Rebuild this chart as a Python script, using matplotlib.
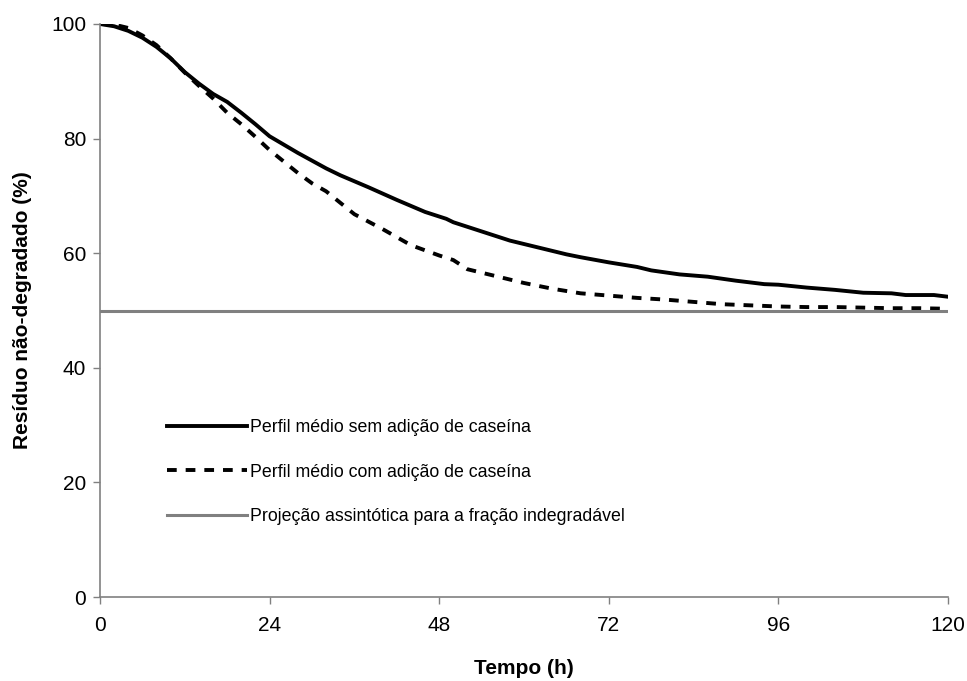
import numpy as np
import matplotlib.pyplot as plt

plt.rcParams['font.family'] = ['Liberation Sans', 'DejaVu Sans']

# tempo (h) e residuo (%)
t_sem = [0, 2, 4, 6, 8, 10, 12, 14, 16, 18, 20, 22, 24, 28, 32, 34, 38, 42, 46, 49, 50,
         54, 58, 62, 66, 68, 72, 76, 78, 82, 86, 90, 94, 96, 100, 104, 108, 112, 114, 118, 120]
y_sem = [100, 99.6, 98.8, 97.6, 96.0, 94.0, 91.6, 89.6, 87.8, 86.4, 84.5, 82.5, 80.4, 77.5,
         74.8, 73.6, 71.5, 69.3, 67.2, 66.0, 65.4, 63.8, 62.2, 61.0, 59.8, 59.3, 58.4, 57.6,
         57.0, 56.3, 55.9, 55.2, 54.6, 54.5, 54.0, 53.6, 53.1, 53.0, 52.7, 52.7, 52.4]

t_com = [0, 2, 4, 6, 8, 10, 12, 14, 16, 18, 20, 22, 24, 26, 28, 30, 32, 34, 36, 40, 44, 48,
         50, 52, 56, 60, 64, 68, 72, 76, 80, 84, 88, 92, 96, 100, 104, 108, 112, 116, 120]
y_com = [100, 99.9, 99.3, 98.0, 96.3, 94.0, 91.5, 89.2, 87.0, 84.5, 82.5, 80.3, 78.0, 76.0,
         74.0, 72.2, 70.8, 68.8, 66.8, 64.2, 61.4, 59.6, 58.8, 57.2, 56.0, 54.8, 53.8, 53.0,
         52.6, 52.2, 51.9, 51.5, 51.1, 50.9, 50.7, 50.6, 50.6, 50.5, 50.4, 50.4, 50.3]

t_ass = [0, 120]
y_ass = [49.9, 49.9]

labels = ['Perfil médio sem adição de caseína',
          'Perfil médio com adição de caseína',
          'Projeção assintótica para a fração indegradável']

fig = plt.figure(figsize=(9.67, 6.81), dpi=100)
ax = fig.add_axes([0.1034, 0.1233, 0.877, 0.8415])

ax.plot(t_sem, y_sem, color='black', linewidth=2.8, label=labels[0])
ax.plot(t_com, y_com, color='black', linewidth=2.8, dashes=(2.5, 2.3), label=labels[1])
ax.plot(t_ass, y_ass, color='#808080', linewidth=2.2, label=labels[2])

ax.set_xlim(0, 120)
ax.set_ylim(0, 100)
ax.set_xticks(np.arange(0, 121, 24))
ax.set_yticks(np.arange(0, 101, 20))
ax.tick_params(direction='out', length=5, width=1, color='#808080', labelsize=15, pad=5)
ax.tick_params(axis='x', pad=9)
for s in ['top', 'right']:
    ax.spines[s].set_visible(False)
for s in ['left', 'bottom']:
    ax.spines[s].set_color('#808080')
    ax.spines[s].set_linewidth(1.2)

ax.set_xlabel('Tempo (h)', fontsize=15, fontweight='bold', labelpad=17)
ax.set_ylabel('Resíduo não-degradado (%)', fontsize=15, fontweight='bold', labelpad=14)

ax.legend(loc='center left', bbox_to_anchor=(0.06, 0.218), frameon=False, fontsize=12.8,
          handlelength=4.5, handletextpad=0.2, labelspacing=1.53)

plt.savefig('out.png', dpi=100)
